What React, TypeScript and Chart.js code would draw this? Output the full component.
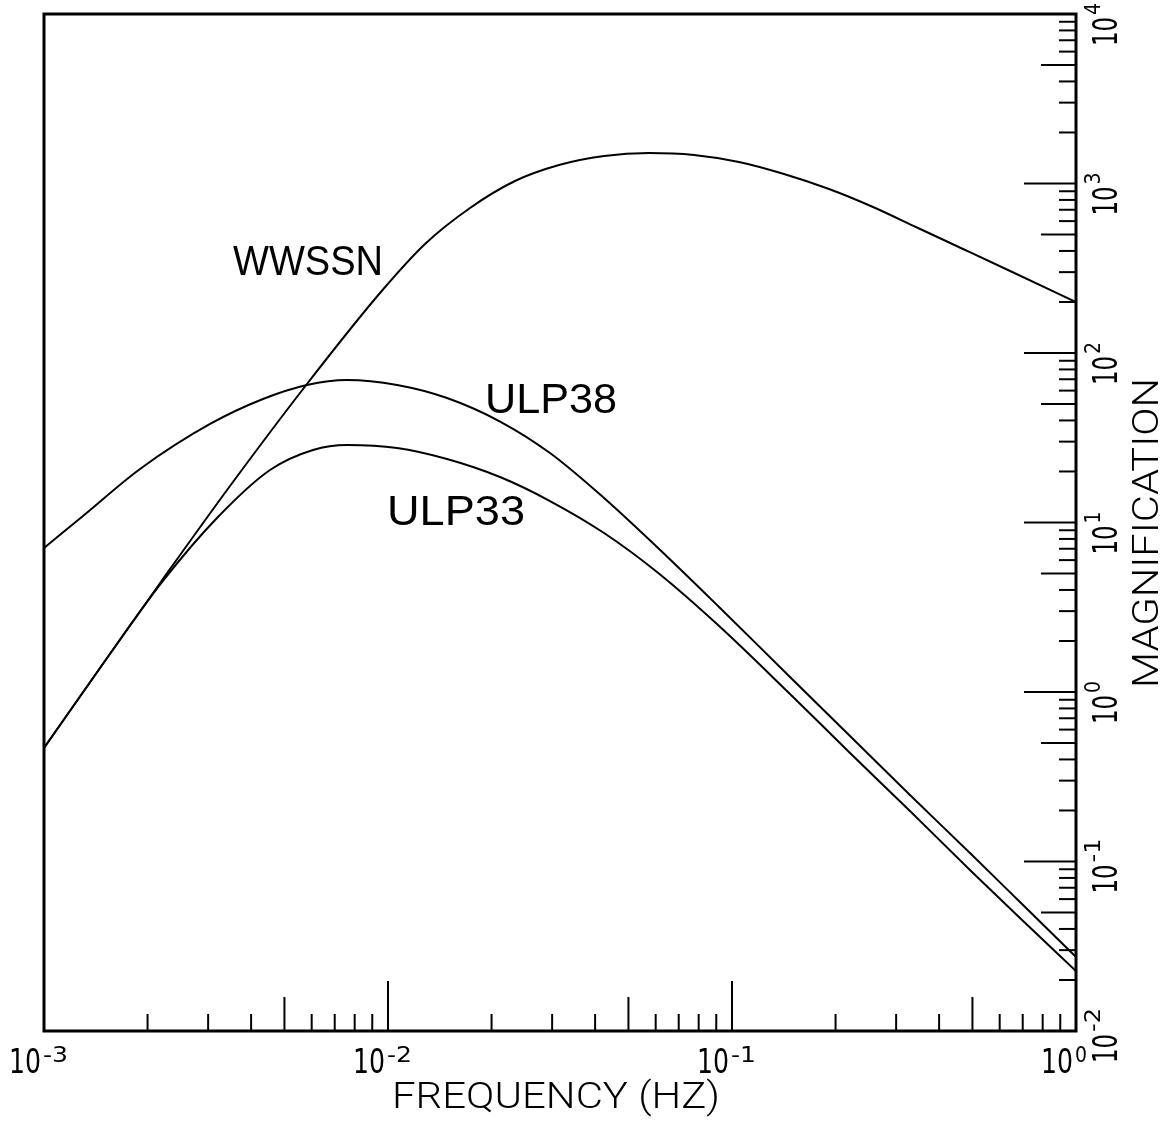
import React, { useEffect, useRef } from 'react';
import { Chart, registerables } from 'chart.js';

Chart.register(...registerables);

// ---- data (frequency in Hz, magnification) ----
const freqWWSSN = [0.001, 0.001455, 0.002217, 0.003473, 0.005813, 0.009478, 0.012812, 0.017315, 0.023393, 0.031412, 0.042463, 0.057384, 0.077536, 0.10478, 0.1416, 0.19143, 0.257, 0.34729, 0.46935, 0.63429, 1.0];
const magWWSSN = [0.4673, 1.386, 4.642, 16.42, 65.64, 225.9, 439.7, 717.1, 1034.4, 1285.6, 1453, 1513, 1473, 1339, 1137.6, 928.1, 726.9, 546.4, 410.9, 308.8, 199.9];

const freqULP38 = [0.001, 0.001298, 0.001902, 0.003039, 0.004331, 0.005813, 0.0076, 0.010622, 0.014843, 0.021305, 0.029572, 0.042463, 0.060534, 0.09107, 0.14544, 0.21883, 0.32914, 0.49854, 0.69199, 1.0];
const magULP38 = [7.071, 10.92, 20.68, 38.12, 53.52, 64.75, 69.29, 64.75, 54.26, 39.16, 25.7, 13.95, 7.168, 3.217, 1.26, 0.5576, 0.2467, 0.1092, 0.0569, 0.02733];

const freqULP33 = [0.001, 0.001455, 0.002217, 0.003183, 0.004539, 0.006053, 0.0076, 0.010622, 0.014843, 0.021163, 0.029572, 0.042463, 0.060534, 0.09107, 0.14544, 0.21883, 0.32914, 0.49854, 0.69199, 1.0];
const magULP33 = [0.4673, 1.386, 4.518, 10.63, 20.4, 26.78, 28.66, 27.52, 23.7, 18.55, 13.39, 8.673, 5.105, 2.484, 1.0, 0.4426, 0.1986, 0.08672, 0.04578, 0.02259];

const seriesNames = ['WWSSN', 'ULP38', 'ULP33'];

// axis decades (exponents) and tick labels
const xDecades = [-3, -2, -1, 0];
const xTickExp = ['-3', '-2', '-1', '0'];
const yDecades = [-2, -1, 0, 1, 2, 3, 4];
const yTickExp = ['-2', '-1', '0', '1', '2', '3', '4'];
const minorMultipliers = [2, 3, 4, 5, 6, 7, 8, 9];

const xTitle = 'FREQUENCY (HZ)';
const yTitle = 'MAGNIFICATION';

const toPoints = (fs: number[], ms: number[]) => fs.map((f, i) => ({ x: f, y: ms[i] }));

const PLOT_FONT = "'DejaVu Sans Condensed', 'DejaVu Sans', sans-serif";

function fitText(ctx: CanvasRenderingContext2D, text: string, x: number, y: number, w: number, font: string) {
  ctx.font = font;
  const m = ctx.measureText(text).width;
  ctx.save();
  ctx.translate(x, y);
  ctx.scale(w / m, 1);
  ctx.textAlign = 'left';
  ctx.textBaseline = 'alphabetic';
  ctx.fillText(text, 0, 0);
  ctx.restore();
}

const framePlugin = {
  id: 'plotterFrame',
  afterDraw(chart: any) {
    const ctx: CanvasRenderingContext2D = chart.ctx;
    const { left, right, top, bottom } = chart.chartArea;
    const xs = chart.scales.x;
    const ys = chart.scales.y;
    ctx.save();
    ctx.fillStyle = '#000';
    ctx.strokeStyle = '#000';

    // frame
    ctx.lineWidth = 3;
    ctx.strokeRect(left, top, right - left, bottom - top);

    // bottom ticks (inward, pointing up)
    ctx.lineWidth = 2;
    for (let i = 0; i < xDecades.length; i++) {
      const base = Math.pow(10, xDecades[i]);
      if (i > 0 && i < xDecades.length - 1) {
        const px = xs.getPixelForValue(base);
        ctx.beginPath(); ctx.moveTo(px, bottom); ctx.lineTo(px, bottom - 50); ctx.stroke();
      }
      if (i < xDecades.length - 1) {
        for (const m of minorMultipliers) {
          const px = xs.getPixelForValue(m * base);
          const len = m === 5 ? 34 : 17;
          ctx.beginPath(); ctx.moveTo(px, bottom); ctx.lineTo(px, bottom - len); ctx.stroke();
        }
      }
    }
    // right ticks (inward, pointing left)
    for (let i = 0; i < yDecades.length; i++) {
      const base = Math.pow(10, yDecades[i]);
      if (i > 0 && i < yDecades.length - 1) {
        const py = ys.getPixelForValue(base);
        ctx.beginPath(); ctx.moveTo(right, py); ctx.lineTo(right - 52, py); ctx.stroke();
      }
      if (i < yDecades.length - 1) {
        for (const m of minorMultipliers) {
          const py = ys.getPixelForValue(m * base);
          const len = m === 5 ? 35 : 17;
          ctx.beginPath(); ctx.moveTo(right, py); ctx.lineTo(right - len, py); ctx.stroke();
        }
      }
    }

    // x tick labels
    const digitFont = `33px ${PLOT_FONT}`;
    const supFont = `22px ${PLOT_FONT}`;
    for (let i = 0; i < xDecades.length; i++) {
      const t = xs.getPixelForValue(Math.pow(10, xDecades[i]));
      fitText(ctx, '10', t - 35, bottom + 42, 32, digitFont);
      const e = xTickExp[i];
      fitText(ctx, e, t - 1, bottom + 31, e.length > 1 ? 25 : 12, supFont);
    }
    // y tick labels (rotated, reading upward)
    for (let i = 0; i < yDecades.length; i++) {
      const t = ys.getPixelForValue(Math.pow(10, yDecades[i]));
      ctx.save();
      ctx.translate(right + 41, t + 32);
      ctx.rotate(-Math.PI / 2);
      fitText(ctx, '10', 0, 0, 29, digitFont);
      const e = yTickExp[i];
      fitText(ctx, e, 31, -17, e.length > 1 ? 24 : 12, supFont);
      ctx.restore();
    }

    // axis titles
    const titleFont = `300 36px Roboto, ${PLOT_FONT}`;
    fitText(ctx, xTitle, 392, bottom + 77, 328, titleFont);
    ctx.save();
    ctx.translate(right + 82, 688);
    ctx.rotate(-Math.PI / 2);
    fitText(ctx, yTitle, 0, 0, 310, titleFont);
    ctx.restore();

    // curve labels
    const labelFont = `42px 'Liberation Sans', Arial, sans-serif`;
    fitText(ctx, seriesNames[0], 233, 275, 150, labelFont);
    fitText(ctx, seriesNames[1], 485, 413, 132, labelFont);
    fitText(ctx, seriesNames[2], 387, 525, 138, labelFont);

    ctx.restore();
  },
};

export default function App() {
  const ref = useRef<HTMLCanvasElement>(null);
  useEffect(() => {
    const ds = (label: string, data: { x: number; y: number }[]) => ({
      label,
      data,
      borderColor: '#000',
      backgroundColor: '#000',
      borderWidth: 2,
      pointRadius: 0,
      fill: false,
      cubicInterpolationMode: 'monotone' as const,
    });
    const chart = new Chart(ref.current!, {
      type: 'line',
      data: {
        datasets: [
          ds(seriesNames[0], toPoints(freqWWSSN, magWWSSN)),
          ds(seriesNames[1], toPoints(freqULP38, magULP38)),
          ds(seriesNames[2], toPoints(freqULP33, magULP33)),
        ],
      },
      options: {
        responsive: false,
        animation: false,
        devicePixelRatio: 1,
        layout: { padding: { left: 44, top: 14, right: 97, bottom: 93 } },
        plugins: { legend: { display: false }, tooltip: { enabled: false } },
        scales: {
          x: { type: 'logarithmic', min: 0.001, max: 1, display: false },
          y: { type: 'logarithmic', min: 0.01, max: 10000, display: false },
        },
      },
      plugins: [framePlugin],
    });
    return () => chart.destroy();
  }, []);
  return (
    <div style={{ position: 'fixed', left: 0, top: 0, width: 1173, height: 1124, background: '#fff' }}>
      <canvas ref={ref} width={1173} height={1124} style={{ display: 'block' }} />
    </div>
  );
}
